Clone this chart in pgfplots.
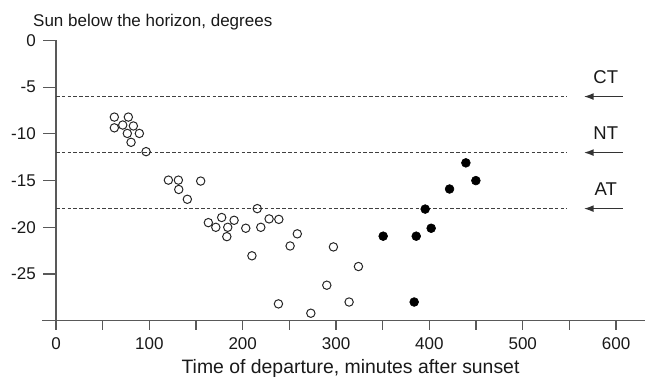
\documentclass[border=0pt]{standalone}
\usepackage{pgfplots}
\pgfplotsset{compat=1.18}
\usepackage{fontspec}
\setmainfont{Liberation Sans}
\usetikzlibrary{arrows.meta}
\definecolor{axcol}{gray}{0.35}
\definecolor{txt}{gray}{0.1}
\begin{document}
\fontsize{17bp}{20bp}\selectfont
\begin{tikzpicture}
\begin{axis}[
  at={(0,0)}, anchor=south west,
  scale only axis,
  width=589bp, height=280.2bp,
  xmin=0, xmax=631, ymin=-30, ymax=0,
  axis lines=left,
  axis line style={-, draw=axcol, line width=1.2bp},
  clip=false,
  xtick={0,50,...,600},
  xticklabels={0,,100,,200,,300,,400,,500,,600},
  ytick={0,-5,-10,-15,-20,-25},
  yticklabels={0,-5,-10,-15,-20,-25},
  tick align=outside,
  major tick length=9bp,
  x tick style={draw=axcol, line width=1.2bp},
  y tick style={draw=none},
  tick label style={font=\fontsize{17bp}{20bp}\selectfont, text=txt},
  xticklabel style={anchor=north, inner sep=0pt, yshift=-8bp},
  yticklabel style={anchor=east, inner sep=0pt, xshift=-11bp},
]
% reference lines
\addplot[draw=black!75, line width=1bp, dash pattern=on 3.5bp off 2.3bp] coordinates {(0,-6) (547.7,-6)};
\addplot[draw=black!75, line width=1bp, dash pattern=on 3.5bp off 2.3bp] coordinates {(0,-12) (547.7,-12)};
\addplot[draw=black!75, line width=1bp, dash pattern=on 3.5bp off 2.3bp] coordinates {(0,-18) (547.7,-18)};
% arrows
\addplot[draw=black!80, line width=1.6bp, -{Latex[length=10bp,width=7bp]}] coordinates {(607,-6) (565.3,-6)};
\addplot[draw=black!80, line width=1.6bp, -{Latex[length=10bp,width=7bp]}] coordinates {(607,-12) (565.3,-12)};
\addplot[draw=black!80, line width=1.6bp, -{Latex[length=10bp,width=7bp]}] coordinates {(607,-18) (565.3,-18)};
% open circles
\addplot[only marks, mark=o, mark size=4.2bp, mark options={draw=black!85, line width=1bp}] coordinates {
(62.5,-8.2) (77.5,-8.2) (62.5,-9.35) (71.5,-9.05) (82.9,-9.15) (76.4,-9.95)
(89.3,-9.95) (80.4,-10.9) (96.5,-11.9) (120.4,-14.95) (131.1,-14.95) (131.5,-15.95)
(155,-15.05) (140.7,-17.0) (215.6,-18.0) (163.2,-19.5) (171.2,-20.0) (177.5,-18.95)
(184.0,-20.0) (190.8,-19.25) (183.0,-21.0) (203.3,-20.1) (219.4,-20.0) (228.3,-19.1)
(238.7,-19.15) (258.5,-20.7) (250.8,-22.0) (209.9,-23.05) (297.2,-22.1) (324,-24.2)
(290.1,-26.2) (238.3,-28.2) (314,-28.0) (273,-29.2)
};
% filled circles
\addplot[only marks, mark=*, mark size=4.4bp, mark options={draw=black, fill=black, line width=0.6bp}] coordinates {
(350.5,-20.95) (385.9,-20.95) (395.5,-18.05) (401.9,-20.1) (421.6,-15.9)
(439.1,-13.1) (449.8,-15.0) (383.7,-28.0)
};
% y ticks (longer than x ticks)
\pgfplotsinvokeforeach{0,-5,-10,-15,-20,-25}{
  \draw[draw=axcol, line width=1.2bp] (axis cs:0,#1) -- ([xshift=-13bp]axis cs:0,#1);
}
\draw[draw=axcol, line width=1.2bp] (axis cs:0,-30) -- ([xshift=-14bp]axis cs:0,-30);
\node[anchor=base, text=txt, inner sep=0pt, font=\fontsize{18.5bp}{22bp}\selectfont] at ([yshift=12.7bp]axis cs:589,-6) {CT};
\node[anchor=base, text=txt, inner sep=0pt, font=\fontsize{18.5bp}{22bp}\selectfont] at ([yshift=12.7bp]axis cs:589,-12) {NT};
\node[anchor=base, text=txt, inner sep=0pt, font=\fontsize{18.5bp}{22bp}\selectfont] at ([yshift=12.7bp]axis cs:589,-18) {AT};
\end{axis}
\node[anchor=base west, text=txt, inner sep=0pt] at (-23bp,294bp) {Sun below the horizon, degrees};
\node[anchor=base, text=txt, inner sep=0pt, font=\fontsize{19.4bp}{23bp}\selectfont] at (294.5bp,-52.6bp) {Time of departure, minutes after sunset};
\pgfresetboundingbox
\useasboundingbox (-56bp,-61.3bp) rectangle (589bp,320.7bp);
\end{tikzpicture}
\end{document}
